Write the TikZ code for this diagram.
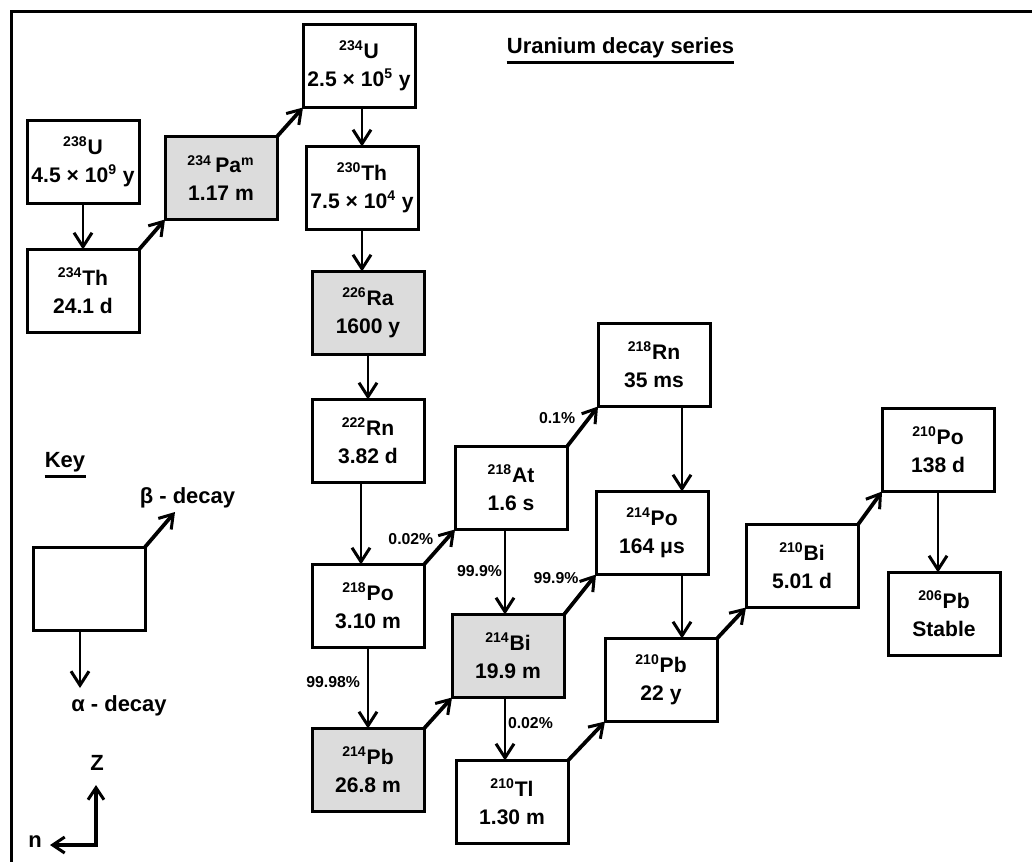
\documentclass[tikz,border=0pt]{standalone}
\usepackage{fontspec}
\setmainfont{Liberation Sans}
\definecolor{nucgray}{RGB}{220,220,220}
\usepackage{tikz}
\usetikzlibrary{arrows.meta, positioning}

\begin{document}
\begin{tikzpicture}[
  nuc/.style={draw, line width=0.06cm, minimum width=2.24cm, minimum height=1.66cm, inner sep=0pt, outer sep=0pt, align=center, font=\bfseries\fontsize{12}{16}\selectfont},
  nucg/.style={nuc, fill=nucgray},
  pct/.style={font=\bfseries\fontsize{9}{10}\selectfont, inner sep=1pt},
  lbl/.style={font=\bfseries\fontsize{12.5}{14}\selectfont, inner sep=0pt},
  adecay/.style={-{Straight Barb[length=0.28cm, width=0.36cm, line width=0.06cm]}, line width=0.05cm},
  bdecay/.style={-{Straight Barb[length=0.26cm, width=0.34cm, line width=0.06cm]}, line width=0.075cm},
  nzaxis/.style={{Straight Barb[length=0.24cm, width=0.32cm, line width=0.06cm]}-{Straight Barb[length=0.24cm, width=0.32cm, line width=0.06cm]}, line width=0.07cm},
]
  \useasboundingbox (0,0) rectangle (20.64,-17.22);
  \draw[line width=0.06cm] (0.22,-17.4) -- (0.22,-0.22) -- (20.8,-0.22);

  \node[lbl] (title) at (12.41,-0.95) {Uranium decay series};
  \draw[line width=0.06cm] ([yshift=-0.09cm]title.south west) -- ([yshift=-0.09cm]title.south east);

  \node[nuc] (u238) at (1.66,-3.24) {\textsuperscript{238}U\\4.5 × 10\textsuperscript{9} y};
  \node[nuc, below=0.92cm of u238] (th234) {\textsuperscript{234}Th\\24.1 d};
  \node[nucg, above right=0.6cm and 0.52cm of th234] (pa234) {\textsuperscript{234}\,Pa\textsuperscript{m}\\1.17 m};
  \node[nuc, above right=0.58cm and 0.52cm of pa234] (u234) {\textsuperscript{234}U\\2.5 × 10\textsuperscript{5} y};
  \node[nuc, below=0.78cm of u234, xshift=0.06cm] (th230) {\textsuperscript{230}Th\\7.5 × 10\textsuperscript{4} y};
  \node[nucg, below=0.84cm of th230, xshift=0.12cm] (ra226) {\textsuperscript{226}Ra\\1600 y};
  \node[nuc, below=0.9cm of ra226] (rn222) {\textsuperscript{222}Rn\\3.82 d};
  \node[nuc, below=1.64cm of rn222] (po218) {\textsuperscript{218}Po\\3.10 m};
  \node[nucg, below=1.62cm of po218] (pb214) {\textsuperscript{214}Pb\\26.8 m};
  \node[nuc, above right=0.7cm and 0.62cm of po218] (at218) {\textsuperscript{218}At\\1.6 s};
  \node[nuc, above right=0.8cm and 0.62cm of at218] (rn218) {\textsuperscript{218}Rn\\35 ms};
  \node[nucg, above right=0.62cm and 0.56cm of pb214] (bi214) {\textsuperscript{214}Bi\\19.9 m};
  \node[nuc, above right=0.8cm and 0.64cm of bi214] (po214) {\textsuperscript{214}Po\\164 μs};
  \node[nuc, below=1.26cm of bi214, xshift=0.08cm] (tl210) {\textsuperscript{210}Tl\\1.30 m};
  \node[nuc, above right=0.78cm and 0.74cm of tl210] (pb210) {\textsuperscript{210}Pb\\22 y};
  \node[nuc, above right=0.62cm and 0.58cm of pb210] (bi210) {\textsuperscript{210}Bi\\5.01 d};
  \node[nuc, above right=0.66cm and 0.48cm of bi210] (po210) {\textsuperscript{210}Po\\138 d};
  \node[nuc, below=1.62cm of po210, xshift=0.12cm] (pb206) {\textsuperscript{206}Pb\\Stable};

  \draw[adecay] (u238.south) -- (u238.south |- th234.north);
  \draw[adecay] (u234.south -| th230.north) -- (th230.north);
  \draw[adecay] (th230.south) -- (th230.south |- ra226.north);
  \draw[adecay] (ra226.south) -- (ra226.south |- rn222.north);
  \draw[adecay] ([xshift=-0.14cm]rn222.south) -- ([xshift=-0.14cm]rn222.south |- po218.north);
  \draw[adecay] (po218.south) -- node[pct, left=0.1cm, pos=0.43]{99.98\%} (po218.south |- pb214.north);
  \draw[adecay] ([xshift=-0.12cm]at218.south) -- node[pct, left, pos=0.49]{99.9\%} ([xshift=-0.12cm]at218.south |- bi214.north);
  \draw[adecay] ([xshift=-0.06cm]bi214.south) -- node[pct, right, pos=0.4]{0.02\%} ([xshift=-0.06cm]bi214.south |- tl210.north);
  \draw[adecay] ([xshift=0.56cm]rn218.south) -- ([xshift=0.56cm]rn218.south |- po214.north);
  \draw[adecay] ([xshift=0.6cm]po214.south) -- ([xshift=0.6cm]po214.south |- pb210.north);
  \draw[adecay] (po210.south) -- (po210.south |- pb206.north);

  \draw[bdecay] (th234.north east) -- (pa234.south west);
  \draw[bdecay] (pa234.north east) -- (u234.south west);
  \draw[bdecay] (po218.north east) -- node[pct, left=0.2cm, pos=0.74]{0.02\%} (at218.south west);
  \draw[bdecay] (at218.north east) -- node[pct, left=0.2cm, pos=0.7]{0.1\%} (rn218.south west);
  \draw[bdecay] (pb214.north east) -- (bi214.south west);
  \draw[bdecay] (bi214.north east) -- node[pct, left=0.22cm, pos=0.91]{99.9\%} (po214.south west);
  \draw[bdecay] (tl210.north east) -- (pb210.south west);
  \draw[bdecay] (pb210.north east) -- (bi210.south west);
  \draw[bdecay] (bi210.north east) -- (po210.south west);

  \node[lbl] (keylbl) at (1.3,-9.25) {Key};
  \draw[line width=0.05cm] ([yshift=-0.08cm]keylbl.south west) -- ([yshift=-0.08cm]keylbl.south east);
  \node[nuc] (key) at (1.78,-11.77) {};
  \coordinate (bkey) at (3.5,-10.24);
  \coordinate (akey) at (1.6,-13.76);
  \draw[bdecay] (key.north east) -- (bkey);
  \draw[adecay] (key.south -| akey) -- (akey);
  \node[lbl] (blbl) at (3.75,-9.96) {β - decay};
  \node[lbl] (albl) at (2.38,-14.12) {α - decay};

  \coordinate (orig) at (1.92,-16.9);
  \coordinate (ztip) at (1.92,-15.7);
  \coordinate (ntip) at (1.0,-16.9);
  \draw[nzaxis] (ntip) -- (orig) -- (ztip);
  \node[lbl] (zlbl) at (1.94,-15.26) {Z};
  \node[lbl] (nlbl) at (0.7,-16.84) {n};
\end{tikzpicture}
\end{document}
